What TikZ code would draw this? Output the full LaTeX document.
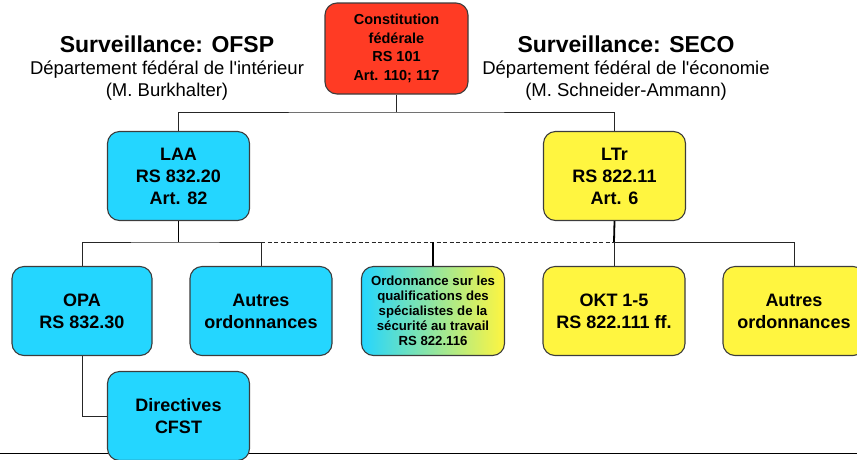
\documentclass[tikz,border=0pt]{standalone}
\usepackage{fontspec}
\setmainfont{Liberation Sans}[Ligatures=TeXOff]
\definecolor{cy}{RGB}{36,214,255}
\definecolor{ye}{RGB}{255,245,64}
\definecolor{rd}{RGB}{255,59,36}
\definecolor{bd}{RGB}{60,60,60}
\begin{document}
\begin{tikzpicture}[x=1pt,y=-1pt,
  box/.style={draw=bd,line width=1.1pt,rounded corners=12pt,minimum width=142pt,minimum height=89pt,align=center,inner sep=2pt,font=\fontsize{18}{22}\selectfont\bfseries},
  cyanbox/.style={box,fill=cy},
  yellowbox/.style={box,fill=ye},
  conn/.style={line width=1pt,draw=black!85},
  stem/.style={line width=1.8pt,draw=black},
  ttl/.style={font=\fontsize{23}{27}\selectfont\bfseries},
  sub/.style={font=\fontsize{18.5}{22}\selectfont,align=center}]
\useasboundingbox (0,0) rectangle (857,459);
% bottom rule
\coordinate (rl) at (0,453);
\coordinate (rr) at (857,453);
\draw[line width=1pt] (rl) -- (rr);
% titles
\node[ttl] (t1) at (167,44) {Surveillance: OFSP};
\node[sub] (s1) at (167,81) {Département fédéral de l'intérieur\\(M. Burkhalter)};
\node[ttl] (t2) at (626,44) {Surveillance: SECO};
\node[sub] (s2) at (626,81) {Département fédéral de l'économie\\(M. Schneider-Ammann)};
% boxes
\node[box,fill=rd,minimum width=143pt,minimum height=91pt,font=\fontsize{14.5}{18.7}\selectfont\bfseries] (top) at (396.5,48.5) {Constitution\\fédérale\\RS 101\\Art. 110; 117};
\node[cyanbox] (LAA) at (178.5,176) {LAA\\RS 832.20\\Art. 82};
\node[yellowbox] (LTr) at (614.5,176) {LTr\\RS 822.11\\Art. 6};
\node[cyanbox,minimum width=140pt] (OPA) at (82,311) {OPA\\RS 832.30};
\node[cyanbox] (A1) at (261,311) {Autres\\ordonnances};
\node[box,left color=cy,right color=ye,minimum width=143pt,font=\fontsize{13.2}{15}\selectfont\bfseries] (mid) at (433,311) {Ordonnance sur les\\qualifications des\\spécialistes de la\\sécurité au travail\\RS 822.116};
\node[yellowbox] (OKT) at (614,311) {OKT 1-5\\RS 822.111 ff.};
\node[yellowbox] (A2) at (794,311) {Autres\\ordonnances};
\node[cyanbox] (Dir) at (178.5,416) {Directives\\CFST};
% connectors
\coordinate (j1) at (396.5,112);
\draw[conn] (top.south) -- (j1);
\draw[conn] (LAA.north) |- (j1) -| (LTr.north);
\coordinate (b) at (178.5,242);
\coordinate (c) at (614,242);
\draw[stem] (LAA.south) -- (b);
\draw[stem] (LTr.south) -- (c);
\draw[conn] (OPA.north) |- (b) -| (A1.north);
\draw[conn] (OKT.north) -- (c) -| (A2.north);
\draw[conn,dash pattern=on 4pt off 2.5pt] (A1.north |- b) -- (c);
\draw[stem] (mid.north) -- (mid.north |- b);
\draw[conn] (OPA.south) |- (Dir.west);
\end{tikzpicture}
\end{document}
